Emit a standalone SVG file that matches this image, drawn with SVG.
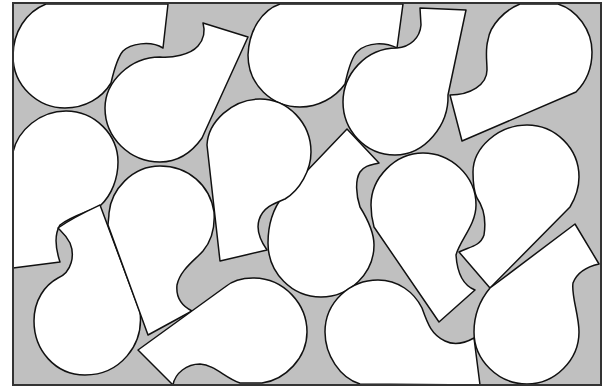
<svg xmlns="http://www.w3.org/2000/svg" width="604" height="387" viewBox="0 0 604 387">
<style>
.bg{fill:#c0c0c0}
.frame{fill:none;stroke:#333;stroke-width:2}
.p{fill:#fff;stroke:#111;stroke-width:1.5;stroke-linejoin:round}
</style>
<rect width="604" height="387" fill="#fff"/>
<rect class="bg" x="13" y="3" width="588" height="382"/>
<g id="pieces">
<g id="piece-1"><path class="p" d="M46,4 C26,12 13,32 13,56 C13,86 38,108 65,108 C85,108 102,98 111,83 C114,70 117,58 123,51 C130,44 150,40 163,48 L168,4 Z"/></g>
<g id="piece-2"><path class="p" d="M203,23 L248,37 L202,138 C190,155 175,162 160,162 C130,162 105,138 105,108 C105,82 130,57 160,57 C172,58 190,55 198,46 C205,38 205,30 203,23 Z"/></g>
<g id="piece-3"><path class="p" d="M280,4 C262,10 249,30 248,55 C248,85 272,107 300,107 C318,107 335,98 345,84 C348,70 352,56 358,51 C368,42 385,42 397,48 L403,4 Z"/></g>
<g id="piece-4"><path class="p" d="M420,8 L466,10 L448,95 C449,125 425,155 395,155 C365,155 343,130 343,102 C343,75 365,48 397,48 C410,47 420,38 421,25 Z"/></g>
<g id="piece-5"><path class="p" d="M520,4 C505,10 490,25 488,40 C485,50 487,60 487,70 C487,85 470,95 450,95 L462,141 L576,92 C586,82 592,68 592,52 C592,30 577,10 558,4 Z"/></g>
<g id="piece-6"><path class="p" d="M459,252 L490,288 L570,207 C576,197 579,187 579,177 C579,148 555,125 527,125 C498,125 473,148 473,172 C473,182 474,192 477,198 C484,208 486,222 484,235 C480,247 468,247 459,252 Z"/></g>
<g id="piece-7"><path class="p" d="M439,322 L475,290 C462,285 457,270 456,255 C460,240 476,225 476,205 C476,175 450,153 423,153 C395,153 371,178 371,205 C371,212 372,220 374,227 Z"/></g>
<g id="piece-8"><path class="p" d="M379,163 L347,129 L283,196 C272,210 268,228 268,243 C268,273 292,297 321,297 C350,297 374,273 374,245 C374,230 365,215 360,207 C356,195 355,180 360,172 C365,165 372,165 379,163 Z"/></g>
<g id="piece-9"><path class="p" d="M220,261 L267,250 C260,240 256,230 259,220 C263,207 275,203 285,199 C300,190 311,170 311,152 C311,123 288,99 260,99 C232,99 208,122 207,145 Z"/></g>
<g id="piece-10"><path class="p" d="M13,152 C18,130 40,111 66,111 C95,111 118,135 118,162 C118,178 112,195 100,206 C85,213 72,216 60,225 C54,235 56,250 60,262 L13,268 Z"/></g>
<g id="piece-11"><path class="p" d="M100,205 L140,312 C144,345 120,375 85,375 C55,375 34,350 34,321 C34,300 45,285 58,278 C72,272 75,255 70,243 C66,235 62,232 58,228 C72,218 85,212 100,205 Z"/></g>
<g id="piece-12"><path class="p" d="M148,335 L192,311 C180,305 176,295 177,285 C180,270 195,260 203,251 C212,240 215,225 214,212 C210,185 188,166 160,166 C132,166 111,190 109,213 C109,218 108,222 108,225 Z"/></g>
<g id="piece-13"><path class="p" d="M138,350 L173,385 C175,373 187,364 200,364 C215,365 225,378 240,383 L262,383 C285,380 307,358 307,332 C307,305 285,278 253,278 C240,278 232,281 225,287 Z"/></g>
<g id="piece-14"><path class="p" d="M360,384 C340,378 325,355 325,332 C325,302 350,280 378,280 C398,280 414,292 422,308 C428,325 432,335 445,341 C455,346 465,343 474,338 L480,385 Z"/></g>
<g id="piece-15"><path class="p" d="M490,288 L575,224 L599,264 C590,266 578,270 573,283 C571,295 579,315 579,332 C579,360 555,384 527,384 C498,384 474,360 474,332 C474,315 480,300 490,288 Z"/></g>
</g>
<g id="connectors"></g>
<rect class="frame" x="13" y="3" width="588" height="382"/>
</svg>
